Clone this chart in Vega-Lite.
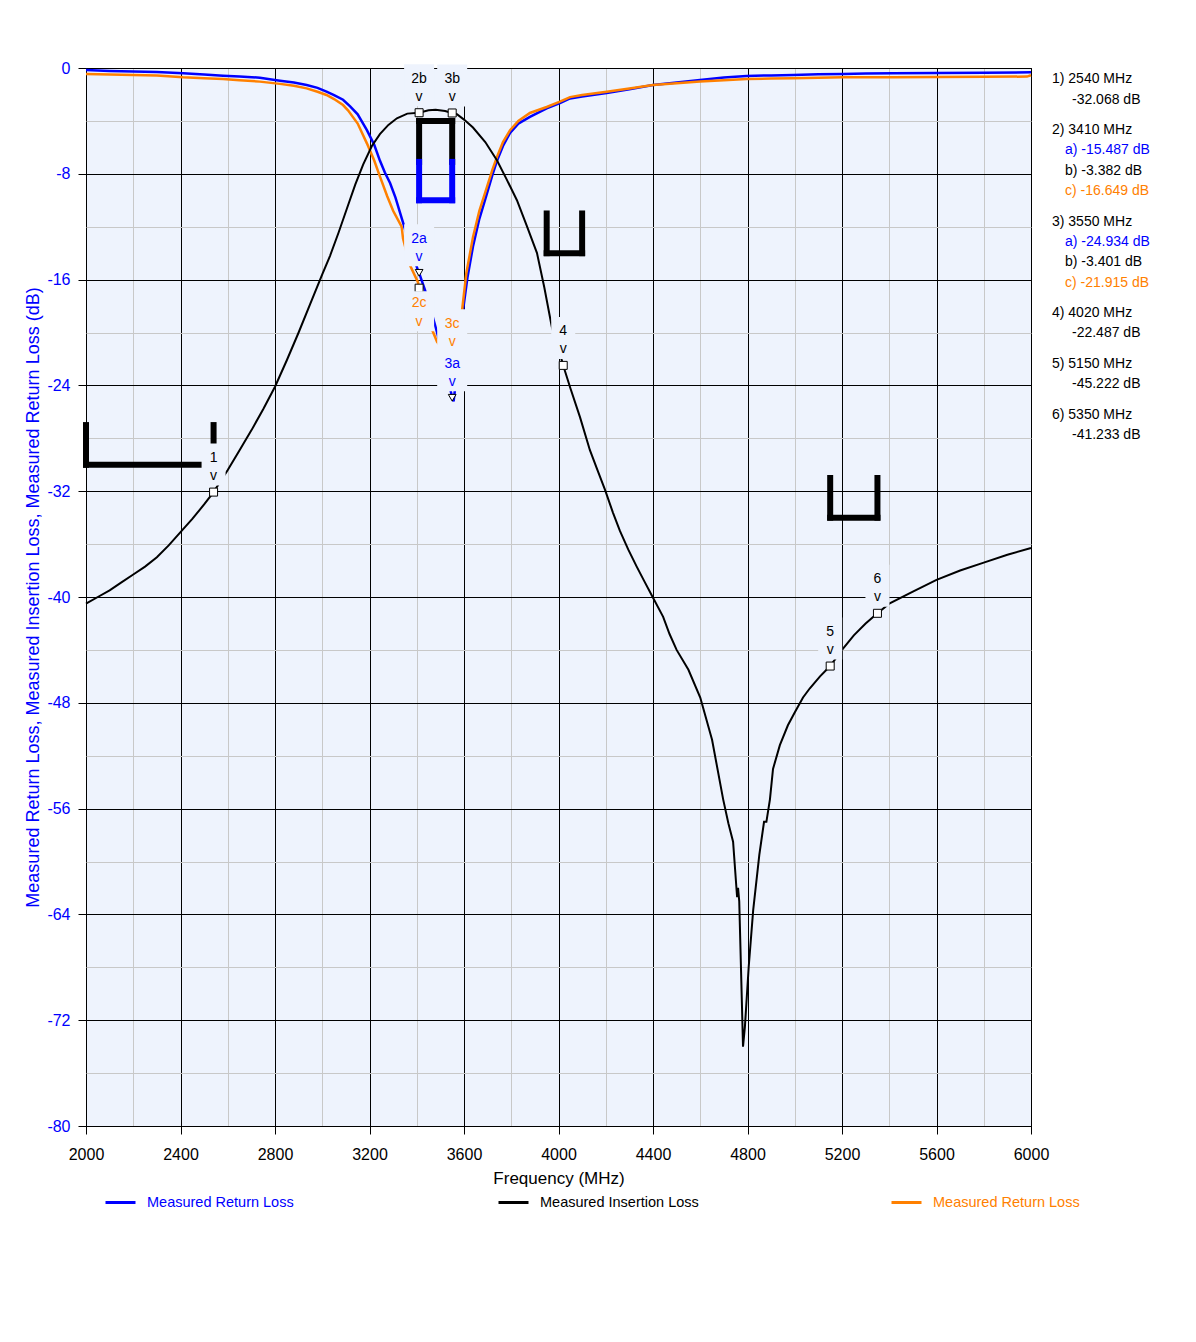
{
  "$schema": "https://vega.github.io/schema/vega-lite/v6.json",
  "background": "white",
  "padding": {"left": 24, "top": 59, "right": 5, "bottom": 5},
  "autosize": {"type": "pad"},
  "spacing": 21,
  "bounds": "flush",
  "config": {
    "font": "Liberation Sans",
    "view": {"fill": "#EEF3FD", "stroke": "#000000", "strokeWidth": 1},
    "axis": {"labelFont": "Liberation Sans", "titleFont": "Liberation Sans", "domain": false, "labelFontSize": 16, "titleFontWeight": "normal", "tickSize": 8, "gridOpacity": 1, "gridWidth": 1, "labelFlush": false},
    "text": {"font": "Liberation Sans"}
  },
  "datasets": {
    "curves": [
      {"t":"RL1","f":2000,"db":-0.15},{"t":"RL1","f":2100,"db":-0.22},{"t":"RL1","f":2200,"db":-0.26},{"t":"RL1","f":2300,"db":-0.3},{"t":"RL1","f":2411,"db":-0.4},{"t":"RL1","f":2500,"db":-0.5},{"t":"RL1","f":2580,"db":-0.58},{"t":"RL1","f":2650,"db":-0.64},{"t":"RL1","f":2736,"db":-0.73},{"t":"RL1","f":2821,"db":-0.96},{"t":"RL1","f":2880,"db":-1.1},{"t":"RL1","f":2934,"db":-1.29},{"t":"RL1","f":2980,"db":-1.5},{"t":"RL1","f":3018,"db":-1.79},{"t":"RL1","f":3050,"db":-2.05},{"t":"RL1","f":3088,"db":-2.4},{"t":"RL1","f":3118,"db":-2.9},{"t":"RL1","f":3150,"db":-3.5},{"t":"RL1","f":3189,"db":-4.7},{"t":"RL1","f":3220,"db":-5.8},{"t":"RL1","f":3244,"db":-7.0},{"t":"RL1","f":3265,"db":-7.9},{"t":"RL1","f":3287,"db":-8.7},{"t":"RL1","f":3310,"db":-9.8},{"t":"RL1","f":3342,"db":-11.7},{"t":"RL1","f":3370,"db":-13.4},{"t":"RL1","f":3405,"db":-15.3},{"t":"RL1","f":3410,"db":-15.49},{"t":"RL1","f":3435,"db":-16.8},{"t":"RL1","f":3460,"db":-18.3},{"t":"RL1","f":3486,"db":-20.0},{"t":"RL1","f":3520,"db":-22.5},{"t":"RL1","f":3550,"db":-24.93},{"t":"RL1","f":3556,"db":-25.2},{"t":"RL1","f":3575,"db":-22.3},{"t":"RL1","f":3596,"db":-18.3},{"t":"RL1","f":3615,"db":-15.8},{"t":"RL1","f":3638,"db":-13.5},{"t":"RL1","f":3665,"db":-11.4},{"t":"RL1","f":3697,"db":-9.5},{"t":"RL1","f":3720,"db":-8.1},{"t":"RL1","f":3740,"db":-7.0},{"t":"RL1","f":3765,"db":-5.9},{"t":"RL1","f":3795,"db":-4.9},{"t":"RL1","f":3830,"db":-4.2},{"t":"RL1","f":3879,"db":-3.7},{"t":"RL1","f":3950,"db":-3.05},{"t":"RL1","f":4006,"db":-2.65},{"t":"RL1","f":4049,"db":-2.3},{"t":"RL1","f":4100,"db":-2.15},{"t":"RL1","f":4204,"db":-1.9},{"t":"RL1","f":4300,"db":-1.6},{"t":"RL1","f":4400,"db":-1.29},{"t":"RL1","f":4500,"db":-1.1},{"t":"RL1","f":4599,"db":-0.9},{"t":"RL1","f":4700,"db":-0.72},{"t":"RL1","f":4796,"db":-0.6},{"t":"RL1","f":4900,"db":-0.56},{"t":"RL1","f":4994,"db":-0.53},{"t":"RL1","f":5100,"db":-0.48},{"t":"RL1","f":5205,"db":-0.45},{"t":"RL1","f":5300,"db":-0.42},{"t":"RL1","f":5417,"db":-0.4},{"t":"RL1","f":5600,"db":-0.37},{"t":"RL1","f":5800,"db":-0.35},{"t":"RL1","f":6000,"db":-0.33},
      {"t":"RL2","f":2000,"db":-0.45},{"t":"RL2","f":2100,"db":-0.5},{"t":"RL2","f":2200,"db":-0.52},{"t":"RL2","f":2300,"db":-0.56},{"t":"RL2","f":2411,"db":-0.7},{"t":"RL2","f":2500,"db":-0.77},{"t":"RL2","f":2580,"db":-0.83},{"t":"RL2","f":2650,"db":-0.92},{"t":"RL2","f":2736,"db":-1.03},{"t":"RL2","f":2821,"db":-1.2},{"t":"RL2","f":2880,"db":-1.35},{"t":"RL2","f":2934,"db":-1.54},{"t":"RL2","f":2980,"db":-1.8},{"t":"RL2","f":3018,"db":-2.04},{"t":"RL2","f":3050,"db":-2.35},{"t":"RL2","f":3088,"db":-2.8},{"t":"RL2","f":3109,"db":-3.2},{"t":"RL2","f":3150,"db":-4.2},{"t":"RL2","f":3189,"db":-5.7},{"t":"RL2","f":3220,"db":-7.0},{"t":"RL2","f":3244,"db":-8.2},{"t":"RL2","f":3275,"db":-9.7},{"t":"RL2","f":3300,"db":-10.8},{"t":"RL2","f":3336,"db":-12.0},{"t":"RL2","f":3342,"db":-12.9},{"t":"RL2","f":3371,"db":-14.9},{"t":"RL2","f":3405,"db":-16.2},{"t":"RL2","f":3410,"db":-16.65},{"t":"RL2","f":3440,"db":-18.2},{"t":"RL2","f":3465,"db":-19.8},{"t":"RL2","f":3486,"db":-20.7},{"t":"RL2","f":3520,"db":-21.5},{"t":"RL2","f":3550,"db":-21.92},{"t":"RL2","f":3565,"db":-21.5},{"t":"RL2","f":3580,"db":-20.0},{"t":"RL2","f":3592,"db":-18.3},{"t":"RL2","f":3610,"db":-15.5},{"t":"RL2","f":3638,"db":-12.8},{"t":"RL2","f":3665,"db":-10.8},{"t":"RL2","f":3697,"db":-9.0},{"t":"RL2","f":3720,"db":-7.7},{"t":"RL2","f":3740,"db":-6.7},{"t":"RL2","f":3765,"db":-5.6},{"t":"RL2","f":3795,"db":-4.7},{"t":"RL2","f":3830,"db":-4.0},{"t":"RL2","f":3879,"db":-3.4},{"t":"RL2","f":3950,"db":-2.95},{"t":"RL2","f":4006,"db":-2.55},{"t":"RL2","f":4049,"db":-2.2},{"t":"RL2","f":4100,"db":-2.05},{"t":"RL2","f":4204,"db":-1.8},{"t":"RL2","f":4300,"db":-1.55},{"t":"RL2","f":4400,"db":-1.29},{"t":"RL2","f":4500,"db":-1.15},{"t":"RL2","f":4599,"db":-1.03},{"t":"RL2","f":4700,"db":-0.92},{"t":"RL2","f":4796,"db":-0.83},{"t":"RL2","f":4900,"db":-0.8},{"t":"RL2","f":4994,"db":-0.78},{"t":"RL2","f":5100,"db":-0.74},{"t":"RL2","f":5205,"db":-0.7},{"t":"RL2","f":5417,"db":-0.7},{"t":"RL2","f":5600,"db":-0.68},{"t":"RL2","f":5800,"db":-0.66},{"t":"RL2","f":5983,"db":-0.65},{"t":"RL2","f":6000,"db":-0.55},
      {"t":"IL","f":2000,"db":-40.5},{"t":"IL","f":2050,"db":-40.0},{"t":"IL","f":2100,"db":-39.5},{"t":"IL","f":2150,"db":-38.9},{"t":"IL","f":2200,"db":-38.3},{"t":"IL","f":2250,"db":-37.7},{"t":"IL","f":2300,"db":-37.0},{"t":"IL","f":2350,"db":-36.1},{"t":"IL","f":2400,"db":-35.1},{"t":"IL","f":2450,"db":-34.1},{"t":"IL","f":2500,"db":-33.0},{"t":"IL","f":2540,"db":-32.07},{"t":"IL","f":2600,"db":-30.4},{"t":"IL","f":2650,"db":-28.9},{"t":"IL","f":2700,"db":-27.4},{"t":"IL","f":2750,"db":-25.8},{"t":"IL","f":2800,"db":-24.1},{"t":"IL","f":2850,"db":-22.1},{"t":"IL","f":2900,"db":-20.0},{"t":"IL","f":2950,"db":-17.8},{"t":"IL","f":3000,"db":-15.6},{"t":"IL","f":3033,"db":-14.2},{"t":"IL","f":3070,"db":-12.4},{"t":"IL","f":3103,"db":-10.7},{"t":"IL","f":3140,"db":-8.8},{"t":"IL","f":3173,"db":-7.3},{"t":"IL","f":3210,"db":-5.9},{"t":"IL","f":3244,"db":-5.0},{"t":"IL","f":3280,"db":-4.3},{"t":"IL","f":3316,"db":-3.8},{"t":"IL","f":3360,"db":-3.45},{"t":"IL","f":3410,"db":-3.38},{"t":"IL","f":3450,"db":-3.2},{"t":"IL","f":3480,"db":-3.15},{"t":"IL","f":3520,"db":-3.25},{"t":"IL","f":3550,"db":-3.4},{"t":"IL","f":3570,"db":-3.5},{"t":"IL","f":3600,"db":-3.9},{"t":"IL","f":3638,"db":-4.5},{"t":"IL","f":3690,"db":-5.6},{"t":"IL","f":3740,"db":-7.0},{"t":"IL","f":3780,"db":-8.4},{"t":"IL","f":3824,"db":-10.0},{"t":"IL","f":3865,"db":-11.9},{"t":"IL","f":3909,"db":-14.0},{"t":"IL","f":3940,"db":-16.6},{"t":"IL","f":3972,"db":-19.6},{"t":"IL","f":4000,"db":-21.2},{"t":"IL","f":4020,"db":-22.49},{"t":"IL","f":4050,"db":-24.2},{"t":"IL","f":4091,"db":-26.4},{"t":"IL","f":4133,"db":-28.9},{"t":"IL","f":4165,"db":-30.4},{"t":"IL","f":4197,"db":-31.9},{"t":"IL","f":4230,"db":-33.6},{"t":"IL","f":4260,"db":-35.0},{"t":"IL","f":4295,"db":-36.4},{"t":"IL","f":4331,"db":-37.7},{"t":"IL","f":4363,"db":-38.8},{"t":"IL","f":4394,"db":-39.85},{"t":"IL","f":4443,"db":-41.5},{"t":"IL","f":4470,"db":-42.8},{"t":"IL","f":4500,"db":-44.0},{"t":"IL","f":4550,"db":-45.5},{"t":"IL","f":4600,"db":-47.6},{"t":"IL","f":4650,"db":-50.8},{"t":"IL","f":4697,"db":-55.3},{"t":"IL","f":4719,"db":-57.1},{"t":"IL","f":4739,"db":-58.5},{"t":"IL","f":4756,"db":-62.7},{"t":"IL","f":4760,"db":-62.0},{"t":"IL","f":4765,"db":-63.0},{"t":"IL","f":4776,"db":-70.5},{"t":"IL","f":4781,"db":-74.0},{"t":"IL","f":4789,"db":-72.5},{"t":"IL","f":4805,"db":-68.0},{"t":"IL","f":4824,"db":-63.7},{"t":"IL","f":4850,"db":-59.5},{"t":"IL","f":4870,"db":-57.0},{"t":"IL","f":4880,"db":-57.0},{"t":"IL","f":4895,"db":-55.3},{"t":"IL","f":4908,"db":-53.0},{"t":"IL","f":4937,"db":-51.2},{"t":"IL","f":4971,"db":-49.7},{"t":"IL","f":5001,"db":-48.7},{"t":"IL","f":5035,"db":-47.6},{"t":"IL","f":5064,"db":-46.9},{"t":"IL","f":5107,"db":-46.0},{"t":"IL","f":5150,"db":-45.22},{"t":"IL","f":5200,"db":-44.0},{"t":"IL","f":5250,"db":-42.9},{"t":"IL","f":5300,"db":-42.0},{"t":"IL","f":5350,"db":-41.23},{"t":"IL","f":5400,"db":-40.5},{"t":"IL","f":5500,"db":-39.6},{"t":"IL","f":5600,"db":-38.7},{"t":"IL","f":5700,"db":-38.0},{"t":"IL","f":5800,"db":-37.4},{"t":"IL","f":5900,"db":-36.8},{"t":"IL","f":6000,"db":-36.3}
    ],
    "masks": [
      {"t":"IL","f":2000,"f2":2000,"db":-27,"db2":-30},
      {"t":"IL","f":2000,"f2":2540,"db":-30,"db2":-30},
      {"t":"IL","f":2540,"f2":2540,"db":-30,"db2":-27},
      {"t":"IL","f":3410,"f2":3550,"db":-4,"db2":-4},
      {"t":"IL","f":3410,"f2":3410,"db":-4,"db2":-7.1},
      {"t":"IL","f":3550,"f2":3550,"db":-4,"db2":-7.1},
      {"t":"RL1","f":3410,"f2":3410,"db":-7.1,"db2":-10},
      {"t":"RL1","f":3410,"f2":3550,"db":-10,"db2":-10},
      {"t":"RL1","f":3550,"f2":3550,"db":-10,"db2":-7.1},
      {"t":"IL","f":3950,"f2":3950,"db":-11,"db2":-14},
      {"t":"IL","f":3950,"f2":4100,"db":-14,"db2":-14},
      {"t":"IL","f":4100,"f2":4100,"db":-14,"db2":-11},
      {"t":"IL","f":5150,"f2":5150,"db":-31,"db2":-34},
      {"t":"IL","f":5150,"f2":5350,"db":-34,"db2":-34},
      {"t":"IL","f":5350,"f2":5350,"db":-34,"db2":-31}
    ],
    "markers": [
      {"m":"1","f":2540,"db":-32.068,"t":"IL"},
      {"m":"2a","f":3410,"db":-15.487,"t":"RL1"},
      {"m":"2b","f":3410,"db":-3.382,"t":"IL"},
      {"m":"2c","f":3410,"db":-16.649,"t":"RL2"},
      {"m":"3a","f":3550,"db":-24.934,"t":"RL1"},
      {"m":"3b","f":3550,"db":-3.401,"t":"IL"},
      {"m":"3c","f":3550,"db":-21.915,"t":"RL2"},
      {"m":"4","f":4020,"db":-22.487,"t":"IL"},
      {"m":"5","f":5150,"db":-45.222,"t":"IL"},
      {"m":"6","f":5350,"db":-41.233,"t":"IL"}
    ],
    "readout": [
      {"txt":"1) 2540 MHz","t":"IL","kind":"head","line":0},
      {"txt":"-32.068 dB","t":"IL","kind":"val","line":1},
      {"txt":"2) 3410 MHz","t":"IL","kind":"head","line":2.5},
      {"txt":"a) -15.487 dB","t":"RL1","kind":"sub","line":3.5},
      {"txt":"b) -3.382 dB","t":"IL","kind":"sub","line":4.5},
      {"txt":"c) -16.649 dB","t":"RL2","kind":"sub","line":5.5},
      {"txt":"3) 3550 MHz","t":"IL","kind":"head","line":7},
      {"txt":"a) -24.934 dB","t":"RL1","kind":"sub","line":8},
      {"txt":"b) -3.401 dB","t":"IL","kind":"sub","line":9},
      {"txt":"c) -21.915 dB","t":"RL2","kind":"sub","line":10},
      {"txt":"4) 4020 MHz","t":"IL","kind":"head","line":11.5},
      {"txt":"-22.487 dB","t":"IL","kind":"val","line":12.5},
      {"txt":"5) 5150 MHz","t":"IL","kind":"head","line":14},
      {"txt":"-45.222 dB","t":"IL","kind":"val","line":15},
      {"txt":"6) 5350 MHz","t":"IL","kind":"head","line":16.5},
      {"txt":"-41.233 dB","t":"IL","kind":"val","line":17.5}
    ]
  },
  "resolve": {"scale": {"color": "shared"}, "legend": {"color": "shared"}},
  "hconcat": [
    {
      "width": 945,
      "height": 1058,
      "encoding": {
        "x": {"field": "f", "type": "quantitative",
          "scale": {"domain": [2000, 6000], "nice": false, "zero": false},
          "axis": {
            "values": [2000,2200,2400,2600,2800,3000,3200,3400,3600,3800,4000,4200,4400,4600,4800,5000,5200,5400,5600,5800,6000],
            "labelExpr": "datum.value % 400 === 0 ? '' + datum.value : ''",
            "labelOverlap": false,
            "gridColor": {"condition": {"test": "datum.value % 400 === 0", "value": "#000000"}, "value": "#C8C8C8"},
            "tickColor": {"condition": {"test": "datum.value % 400 === 0", "value": "#000000"}, "value": "transparent"},
            "labelColor": "#000000",
            "labelPadding": 12,
            "title": "Frequency (MHz)",
            "titleFontSize": 17,
            "titleColor": "#000000",
            "titlePadding": 8
          }
        },
        "y": {"field": "db", "type": "quantitative",
          "scale": {"domain": [-80, 0], "nice": false, "zero": false},
          "axis": {
            "values": [-80,-76,-72,-68,-64,-60,-56,-52,-48,-44,-40,-36,-32,-28,-24,-20,-16,-12,-8,-4,0],
            "labelExpr": "datum.value % 8 === 0 ? '' + datum.value : ''",
            "labelOverlap": false,
            "gridColor": {"condition": {"test": "datum.value % 8 === 0", "value": "#000000"}, "value": "#C8C8C8"},
            "tickColor": {"condition": {"test": "datum.value % 8 === 0", "value": "#000000"}, "value": "transparent"},
            "labelColor": "#0000FF",
            "labelPadding": 8,
            "title": "Measured Return Loss, Measured Insertion Loss, Measured Return Loss (dB)",
            "titleFontSize": 18,
            "titleColor": "#0000FF",
            "titlePadding": 4
          }
        },
        "color": {"field": "t", "type": "nominal",
          "scale": {"domain": ["RL1", "IL", "RL2"], "range": ["#0000FF", "#000000", "#FF8000"]},
          "legend": {
            "orient": "none", "legendX": 18, "legendY": 1118,
            "direction": "horizontal", "columns": 3, "columnPadding": 186, "gridAlign": "all",
            "title": null, "symbolType": "stroke", "symbolSize": 900, "symbolStrokeWidth": 3,
            "labelFontSize": 14.5, "labelOffset": 10, "labelFont": "Liberation Sans", "labelLimit": 300,
            "labelExpr": "datum.value === 'IL' ? 'Measured Insertion Loss' : 'Measured Return Loss'",
            "encode": {"labels": {"update": {"fill": {"scale": "color", "field": "value"}}}}
          }
        }
      },
      "layer": [
        {"data": {"name": "curves"}, "transform": [{"filter": "datum.t !== 'IL'"}],
         "mark": {"type": "line", "strokeWidth": 2.5}},
        {"data": {"name": "curves"}, "transform": [{"filter": "datum.t === 'IL'"}],
         "mark": {"type": "line", "strokeWidth": 2}},
        {"data": {"name": "masks"},
         "mark": {"type": "rule", "strokeWidth": 6, "strokeCap": "square"},
         "encoding": {"x2": {"field": "f2"}, "y2": {"field": "db2"}}},
        {"data": {"name": "markers"}, "transform": [{"filter": "datum.t === 'RL1'"}],
         "mark": {"type": "point", "shape": "triangle-down", "size": 60, "filled": true, "stroke": "#000000", "strokeWidth": 1, "opacity": 1},
         "encoding": {"color": {"value": "#FFFFFF"}}},
        {"data": {"name": "markers"}, "transform": [{"filter": "datum.t !== 'RL1'"}],
         "mark": {"type": "square", "size": 64, "filled": true, "stroke": "#000000", "strokeWidth": 1, "opacity": 1},
         "encoding": {"color": {"value": "#FFFFFF"}}},
        {"data": {"name": "markers"}, "transform": [{"filter": "length(datum.m) === 2 && datum.m !== '2c'"}],
         "mark": {"type": "rect", "width": 30, "height": 42, "yOffset": -27.5},
         "encoding": {"color": {"value": "#EEF3FD"}}},
        {"data": {"name": "markers"}, "transform": [{"filter": "length(datum.m) === 1"}],
         "mark": {"type": "rect", "width": 24, "height": 42, "yOffset": -27.5},
         "encoding": {"color": {"value": "#EEF3FD"}}},
        {"data": {"name": "markers"}, "transform": [{"filter": "datum.m === '2c'"}],
         "mark": {"type": "rect", "width": 30, "height": 40, "yOffset": 23},
         "encoding": {"color": {"value": "#EEF3FD"}}},
        {"data": {"name": "markers"}, "transform": [{"filter": "datum.m !== '2c'"}],
         "mark": {"type": "text", "fontSize": 14, "dy": -34, "baseline": "middle"},
         "encoding": {"text": {"field": "m"}}},
        {"data": {"name": "markers"}, "transform": [{"filter": "datum.m !== '2c'"}],
         "mark": {"type": "text", "fontSize": 14, "dy": -16, "baseline": "middle"},
         "encoding": {"text": {"value": "v"}}},
        {"data": {"name": "markers"}, "transform": [{"filter": "datum.m === '2c'"}],
         "mark": {"type": "text", "fontSize": 14, "dy": 15, "baseline": "middle"},
         "encoding": {"text": {"field": "m"}}},
        {"data": {"name": "markers"}, "transform": [{"filter": "datum.m === '2c'"}],
         "mark": {"type": "text", "fontSize": 14, "dy": 34, "baseline": "middle"},
         "encoding": {"text": {"value": "v"}}}
      ]
    },
    {
      "width": 140,
      "height": 1058,
      "view": {"stroke": null, "fill": null},
      "data": {"name": "readout"},
      "encoding": {
        "y": {"field": "line", "type": "quantitative", "scale": {"domain": [-0.55, 51.46], "reverse": true, "nice": false, "zero": false}, "axis": null},
        "color": {"field": "t", "type": "nominal", "scale": {"domain": ["RL1", "IL", "RL2"], "range": ["#0000FF", "#000000", "#FF8000"]}, "legend": null},
        "text": {"field": "txt"}
      },
      "layer": [
        {"transform": [{"filter": "datum.kind === 'head'"}], "mark": {"type": "text", "align": "left", "baseline": "middle", "fontSize": 14, "dx": -70}},
        {"transform": [{"filter": "datum.kind === 'val'"}], "mark": {"type": "text", "align": "left", "baseline": "middle", "fontSize": 14, "dx": -50}},
        {"transform": [{"filter": "datum.kind === 'sub'"}], "mark": {"type": "text", "align": "left", "baseline": "middle", "fontSize": 14, "dx": -57}}
      ]
    }
  ]
}
